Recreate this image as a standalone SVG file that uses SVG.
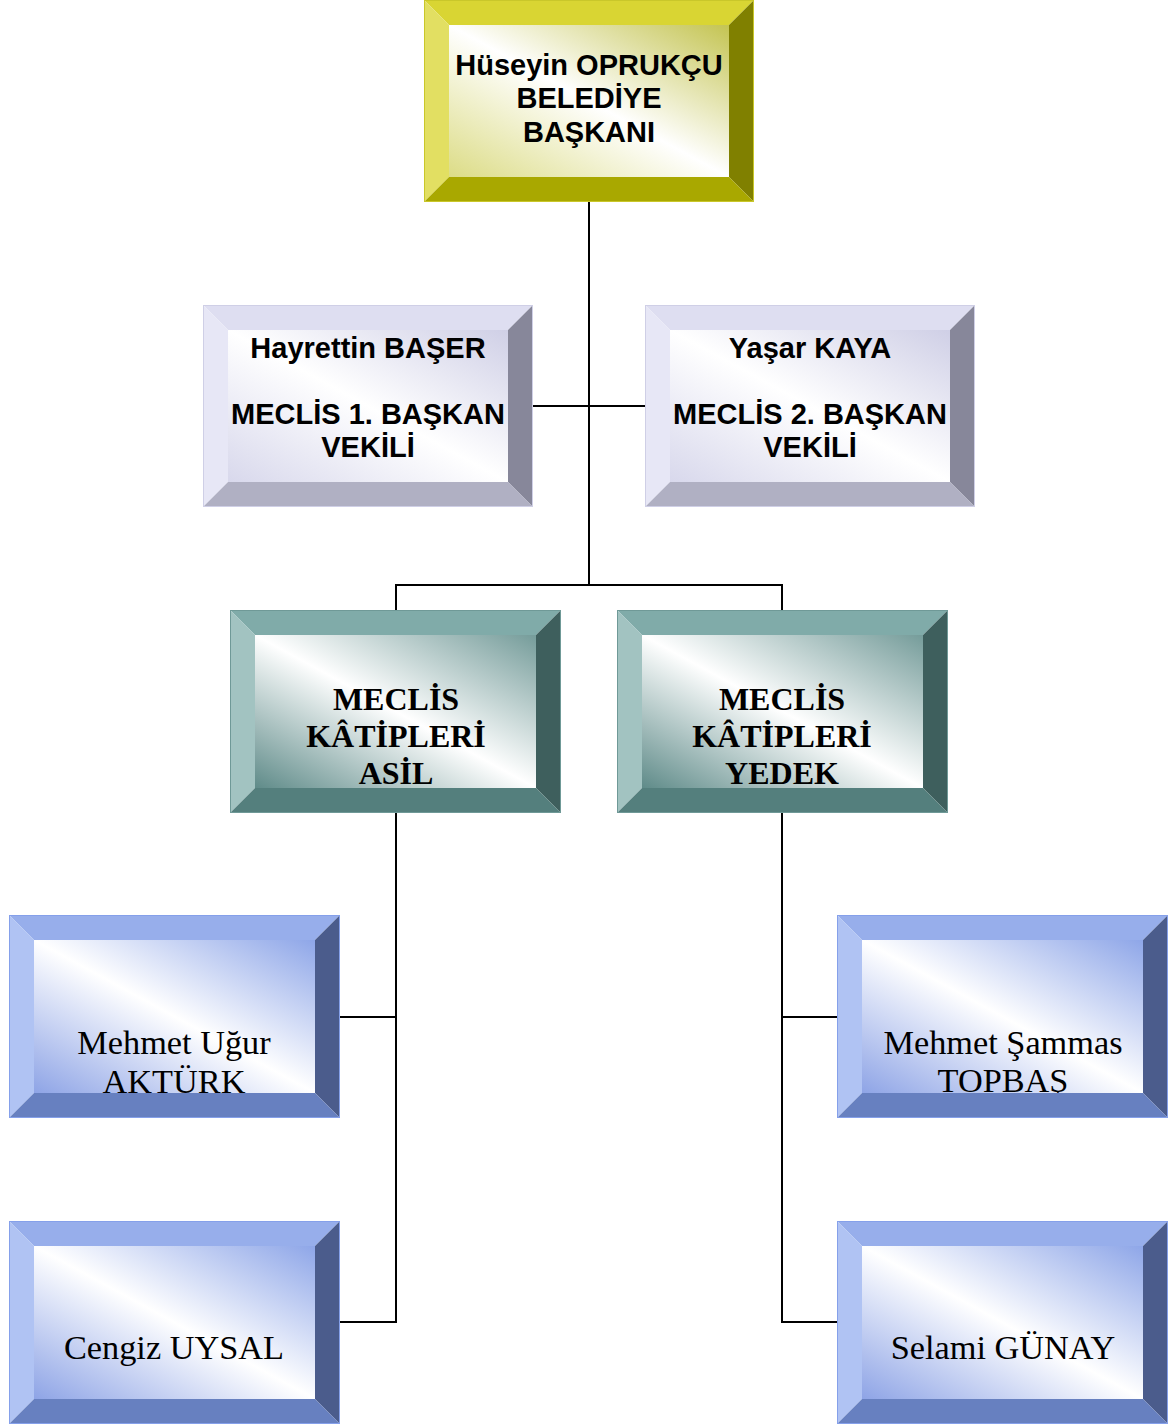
<svg xmlns="http://www.w3.org/2000/svg" width="1175" height="1426" viewBox="0 0 1175 1426">
<style>
.sans{font-family:"Liberation Sans",Arial,sans-serif;font-weight:bold;font-size:29px;fill:#000;text-anchor:middle}
.serb{font-family:"Liberation Serif","Times New Roman",serif;font-weight:bold;font-size:32px;fill:#000;text-anchor:middle}
.ser{font-family:"Liberation Serif","Times New Roman",serif;font-size:34.3px;fill:#000;text-anchor:middle}
.conn{fill:none;stroke:#000;stroke-width:2}
.yel .in{fill:url(#gY)} .yel .t{fill:#d9d533} .yel .l{fill:#e2df62} .yel .r{fill:#808000} .yel .b{fill:#a9a800} .yel .o{fill:none;stroke:#c9c72a;stroke-width:1}
.lav .in{fill:url(#gL)} .lav .t{fill:#dedef1} .lav .l{fill:#e7e7f6} .lav .r{fill:#87879a} .lav .b{fill:#b0b0c3} .lav .o{fill:none;stroke:#cfcfe6;stroke-width:1}
.tea .in{fill:url(#gT)} .tea .t{fill:#80aba9} .tea .l{fill:#a2c3c1} .tea .r{fill:#3e5f5d} .tea .b{fill:#547f7d} .tea .o{fill:none;stroke:#6f9997;stroke-width:1}
.blu .in{fill:url(#gB)} .blu .t{fill:#97aeeb} .blu .l{fill:#b0c3f3} .blu .r{fill:#4b5c8c} .blu .b{fill:#6780c0} .blu .o{fill:none;stroke:#85a0ea;stroke-width:1}
</style>
<defs>
<linearGradient id="gY" x1="1" y1="0" x2="0" y2="1">
<stop offset="0" stop-color="#c4c452"/><stop offset="0.5" stop-color="#ffffff"/><stop offset="1" stop-color="#dcdc86"/>
</linearGradient>
<linearGradient id="gL" x1="1" y1="0" x2="0" y2="1">
<stop offset="0" stop-color="#cfcfe6"/><stop offset="0.5" stop-color="#ffffff"/><stop offset="1" stop-color="#d8d8ec"/>
</linearGradient>
<linearGradient id="gT" x1="1" y1="0" x2="0" y2="1">
<stop offset="0" stop-color="#759c9a"/><stop offset="0.5" stop-color="#ffffff"/><stop offset="1" stop-color="#5f8b89"/>
</linearGradient>
<linearGradient id="gB" x1="1" y1="0" x2="0" y2="1">
<stop offset="0" stop-color="#8ea6e8"/><stop offset="0.5" stop-color="#ffffff"/><stop offset="1" stop-color="#8ea4e6"/>
</linearGradient>
</defs>

<g id="connectors">
<path class="conn" d="M589,202 V585"/>
<path class="conn" d="M533,406 H645"/>
<path class="conn" d="M396,610 V585 H782 V610"/>
<path class="conn" d="M396,813 V1322 H340 M396,1017 H340"/>
<path class="conn" d="M782,813 V1322 H837 M782,1017 H837"/>
</g>

<g id="baskan" class="yel" transform="translate(424,0)">
<rect class="in" x="25" y="25" width="280" height="152"/>
<text class="sans" x="165" y="74.5">Hüseyin OPRUKÇU</text>
<text class="sans" x="165" y="108">BELEDİYE</text>
<text class="sans" x="165" y="141.5">BAŞKANI</text>
<polygon class="t" points="0,0 330,0 305,25 25,25"/>
<polygon class="l" points="0,0 25,25 25,177 0,202"/>
<polygon class="r" points="330,0 330,202 305,177 305,25"/>
<polygon class="b" points="0,202 25,177 305,177 330,202"/>
<rect class="o" x="0.5" y="0.5" width="329" height="201"/>
</g>

<g id="vekil1" class="lav" transform="translate(203,305)">
<rect class="in" x="25" y="25" width="280" height="152"/>
<text class="sans" x="165" y="52.5">Hayrettin BAŞER</text>
<text class="sans" x="165" y="119">MECLİS 1. BAŞKAN</text>
<text class="sans" x="165" y="152">VEKİLİ</text>
<polygon class="t" points="0,0 330,0 305,25 25,25"/>
<polygon class="l" points="0,0 25,25 25,177 0,202"/>
<polygon class="r" points="330,0 330,202 305,177 305,25"/>
<polygon class="b" points="0,202 25,177 305,177 330,202"/>
<rect class="o" x="0.5" y="0.5" width="329" height="201"/>
</g>

<g id="vekil2" class="lav" transform="translate(645,305)">
<rect class="in" x="25" y="25" width="280" height="152"/>
<text class="sans" x="165" y="52.5">Yaşar KAYA</text>
<text class="sans" x="165" y="119">MECLİS 2. BAŞKAN</text>
<text class="sans" x="165" y="152">VEKİLİ</text>
<polygon class="t" points="0,0 330,0 305,25 25,25"/>
<polygon class="l" points="0,0 25,25 25,177 0,202"/>
<polygon class="r" points="330,0 330,202 305,177 305,25"/>
<polygon class="b" points="0,202 25,177 305,177 330,202"/>
<rect class="o" x="0.5" y="0.5" width="329" height="201"/>
</g>

<g id="katip-asil" class="tea" transform="translate(230,610)">
<rect class="in" x="25" y="25" width="281" height="153"/>
<text class="serb" x="166" y="99.5">MECLİS</text>
<text class="serb" x="166" y="136.5">KÂTİPLERİ</text>
<text class="serb" x="166" y="173.5">ASİL</text>
<polygon class="t" points="0,0 331,0 306,25 25,25"/>
<polygon class="l" points="0,0 25,25 25,178 0,203"/>
<polygon class="r" points="331,0 331,203 306,178 306,25"/>
<polygon class="b" points="0,203 25,178 306,178 331,203"/>
<rect class="o" x="0.5" y="0.5" width="330" height="202"/>
</g>

<g id="katip-yedek" class="tea" transform="translate(617,610)">
<rect class="in" x="25" y="25" width="281" height="153"/>
<text class="serb" x="165" y="99.5">MECLİS</text>
<text class="serb" x="165" y="136.5">KÂTİPLERİ</text>
<text class="serb" x="165" y="173.5">YEDEK</text>
<polygon class="t" points="0,0 331,0 306,25 25,25"/>
<polygon class="l" points="0,0 25,25 25,178 0,203"/>
<polygon class="r" points="331,0 331,203 306,178 306,25"/>
<polygon class="b" points="0,203 25,178 306,178 331,203"/>
<rect class="o" x="0.5" y="0.5" width="330" height="202"/>
</g>

<g id="akturk" class="blu" transform="translate(9,915)">
<rect class="in" x="25" y="25" width="281" height="153"/>
<text class="ser" x="165" y="139">Mehmet Uğur</text>
<text class="ser" x="165" y="178">AKTÜRK</text>
<polygon class="t" points="0,0 331,0 306,25 25,25"/>
<polygon class="l" points="0,0 25,25 25,178 0,203"/>
<polygon class="r" points="331,0 331,203 306,178 306,25"/>
<polygon class="b" points="0,203 25,178 306,178 331,203"/>
<rect class="o" x="0.5" y="0.5" width="330" height="202"/>
</g>

<g id="uysal" class="blu" transform="translate(9,1221)">
<rect class="in" x="25" y="25" width="281" height="153"/>
<text class="ser" x="165" y="138">Cengiz UYSAL</text>
<polygon class="t" points="0,0 331,0 306,25 25,25"/>
<polygon class="l" points="0,0 25,25 25,178 0,203"/>
<polygon class="r" points="331,0 331,203 306,178 306,25"/>
<polygon class="b" points="0,203 25,178 306,178 331,203"/>
<rect class="o" x="0.5" y="0.5" width="330" height="202"/>
</g>

<g id="topbas" class="blu" transform="translate(837,915)">
<rect class="in" x="25" y="25" width="281" height="153"/>
<text class="ser" x="166" y="139">Mehmet Şammas</text>
<text class="ser" x="166" y="177">TOPBAŞ</text>
<polygon class="t" points="0,0 331,0 306,25 25,25"/>
<polygon class="l" points="0,0 25,25 25,178 0,203"/>
<polygon class="r" points="331,0 331,203 306,178 306,25"/>
<polygon class="b" points="0,203 25,178 306,178 331,203"/>
<rect class="o" x="0.5" y="0.5" width="330" height="202"/>
</g>

<g id="gunay" class="blu" transform="translate(837,1221)">
<rect class="in" x="25" y="25" width="281" height="153"/>
<text class="ser" x="166" y="138">Selami GÜNAY</text>
<polygon class="t" points="0,0 331,0 306,25 25,25"/>
<polygon class="l" points="0,0 25,25 25,178 0,203"/>
<polygon class="r" points="331,0 331,203 306,178 306,25"/>
<polygon class="b" points="0,203 25,178 306,178 331,203"/>
<rect class="o" x="0.5" y="0.5" width="330" height="202"/>
</g>
</svg>
